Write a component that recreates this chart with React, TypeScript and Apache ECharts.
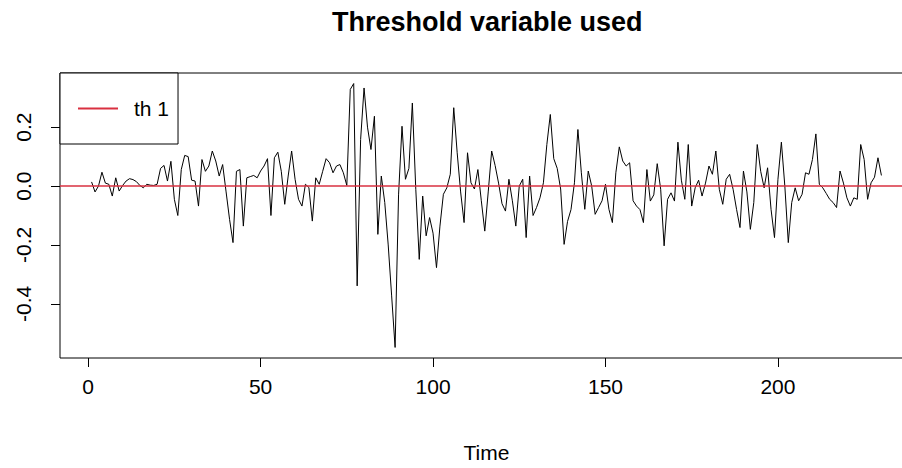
import React, { useEffect, useRef } from "react";
import * as echarts from "echarts";

const seriesName = "th 1";
const titleText = "Threshold variable used";
const xName = "Time";
const xTicks = [0, 50, 100, 150, 200];
const yTicks = [-0.4, -0.2, 0, 0.2];
const threshold = 0;

const values = [
  0.014, -0.02, 0.0, 0.047, 0.01, 0.006, -0.034, 0.028, -0.017, 0.002,
  0.017, 0.025, 0.022, 0.015, 0.002, -0.006, 0.006, 0.003, 0.002, 0.006,
  0.06, 0.07, 0.017, 0.084, -0.045, -0.1, 0.056, 0.104, 0.1, 0.02,
  0.017, -0.068, 0.09, 0.05, 0.068, 0.119, 0.085, 0.034, 0.073, -0.02,
  -0.113, -0.192, 0.05, 0.056, -0.136, 0.028, 0.032, 0.036, 0.028, 0.051,
  0.068, 0.093, -0.1, 0.096, 0.115, 0.05, -0.062, 0.034, 0.119, 0.023,
  -0.045, -0.068, 0.006, -0.005, -0.119, 0.028, 0.006, 0.05, 0.093, 0.079,
  0.045, 0.068, 0.073, 0.045, 0.002, 0.328, 0.348, -0.339, 0.158, 0.333,
  0.2, 0.124, 0.237, -0.164, 0.034, -0.056, -0.2, -0.373, -0.548, -0.03,
  0.203, 0.023, 0.06, 0.282, -0.011, -0.249, -0.034, -0.169, -0.107, -0.16,
  -0.277, -0.136, -0.028, -0.006, 0.04, 0.266, 0.113, -0.02, -0.124, 0.113,
  0.011, -0.01, 0.056, -0.05, -0.153, -0.02, 0.119, 0.07, 0.01, -0.06,
  -0.085, 0.023, -0.05, -0.136, 0.0, 0.023, -0.175, 0.034, -0.1, -0.073,
  -0.04, 0.011, 0.141, 0.243, 0.093, 0.06, -0.01, -0.198, -0.12, -0.08,
  0.011, 0.192, 0.045, -0.079, 0.051, 0.0, -0.096, -0.073, -0.05, 0.006,
  -0.079, -0.124, 0.045, 0.133, 0.085, 0.068, 0.079, -0.05, -0.068, -0.08,
  -0.124, 0.056, -0.051, -0.03, 0.076, -0.011, -0.203, -0.045, -0.023, -0.051,
  0.149, 0.02, -0.045, 0.141, -0.068, -0.006, 0.02, -0.034, 0.01, 0.068,
  0.04, 0.119, -0.011, -0.062, 0.023, 0.04, -0.011, -0.079, -0.141, 0.051,
  -0.02, -0.147, -0.056, 0.141, 0.05, -0.006, 0.062, -0.079, -0.175, 0.023,
  0.149, 0.0, -0.192, -0.056, -0.006, -0.05, -0.028, 0.045, 0.04, 0.09,
  0.177, 0.006, -0.006, -0.025, -0.045, -0.056, -0.073, 0.051, 0.01, -0.04,
  -0.068, -0.04, -0.045, 0.141, 0.09, -0.045, 0.011, 0.03, 0.096, 0.036,
];

const FONT = "'Liberation Sans', Arial, sans-serif";

export default function App() {
  const ref = useRef<HTMLDivElement>(null);
  useEffect(() => {
    if (!ref.current) return;
    const chart = echarts.init(ref.current, undefined, { renderer: "svg" });
    const n = values.length;
    const pad = 0.04 * (n - 1);
    const xMin = 1 - pad;
    const xMax = n + pad;
    const yLo = Math.min(...values);
    const yHi = Math.max(...values);
    const yPad = 0.04 * (yHi - yLo);
    const data = values.map((v, i) => [i + 1, v]);
    chart.setOption({
      animation: false,
      backgroundColor: "#ffffff",
      title: {
        text: titleText,
        left: 332,
        top: 8,
        padding: 0,
        textStyle: { fontFamily: FONT, fontSize: 27, fontWeight: "bold", color: "#000" },
      },
      legend: {
        left: 60,
        top: 73,
        orient: "vertical",
        data: [seriesName],
        backgroundColor: "#fff",
        borderColor: "#000",
        borderWidth: 1,
        borderRadius: 0,
        padding: [25, 9, 25, 18],
        itemWidth: 40,
        itemHeight: 2,
        icon: "rect",
        textStyle: { fontFamily: FONT, fontSize: 21, color: "#000", padding: [0, 0, 0, 11] },
      },
      grid: {
        left: 60,
        top: 73,
        width: 853,
        height: 285,
        show: true,
        borderColor: "#000",
        borderWidth: 1,
        backgroundColor: "transparent",
      },
      xAxis: {
        type: "value",
        min: xMin,
        max: xMax,
        name: xName,
        nameLocation: "middle",
        nameGap: 84,
        nameTextStyle: { fontFamily: FONT, fontSize: 21, color: "#000" },
        axisLine: { show: false, onZero: false },
        splitLine: { show: false },
        axisTick: { show: true, length: 9, customValues: xTicks, lineStyle: { color: "#000" } },
        axisLabel: { customValues: xTicks, margin: 18, fontFamily: FONT, fontSize: 21, color: "#000" },
      },
      yAxis: {
        type: "value",
        min: yLo - yPad,
        max: yHi + yPad,
        axisLine: { show: false, onZero: false },
        splitLine: { show: false },
        axisTick: { show: true, length: 9, customValues: yTicks, lineStyle: { color: "#000" } },
        axisLabel: {
          customValues: yTicks,
          rotate: 90,
          margin: 26,
          fontFamily: FONT,
          fontSize: 21,
          color: "#000",
          formatter: (v: number) => v.toFixed(1),
        },
      },
      series: [
        {
          name: "series",
          type: "line",
          data,
          showSymbol: false,
          lineStyle: { color: "#000", width: 1 },
          itemStyle: { color: "#000" },
          z: 2,
        },
        {
          name: seriesName,
          type: "line",
          data: [
            [xMin, threshold],
            [xMax, threshold],
          ],
          showSymbol: false,
          lineStyle: { color: "#D93040", width: 1.5 },
          itemStyle: { color: "#D93040" },
          z: 3,
        },
      ],
    });
    return () => chart.dispose();
  }, []);
  return (
    <div style={{ position: "absolute", left: 0, top: 0, width: 902, height: 468, overflow: "hidden", background: "#fff" }}>
      <div ref={ref} style={{ width: 930, height: 468 }} />
    </div>
  );
}
